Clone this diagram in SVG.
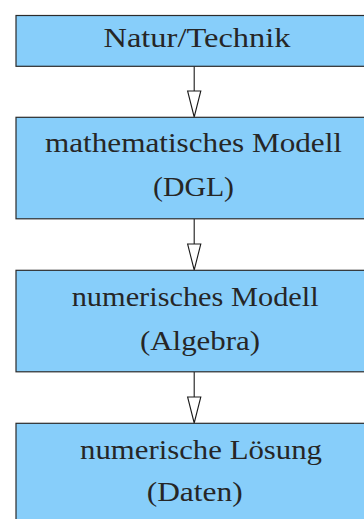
<svg xmlns="http://www.w3.org/2000/svg" width="364" height="519" viewBox="0 0 364 519">
<defs>
<style>
.box{fill:#87cefa;stroke:#2b2b2b;stroke-width:1.2}
.t{font-family:"Liberation Serif","Times New Roman",serif;font-size:27px;fill:#262626}
.c{stroke:#1a1a1a;stroke-width:1.1;fill:none}
.h{fill:#ffffff;stroke:#1a1a1a;stroke-width:1.1;stroke-linejoin:miter}
</style>
</defs>
<rect width="364" height="519" fill="#ffffff"/>
<g id="connectors">
<line class="c" x1="194.2" y1="66" x2="194.2" y2="91"/>
<polygon class="h" points="187.6,91 200.8,91 194.2,117"/>
<line class="c" x1="194.2" y1="219" x2="194.2" y2="244"/>
<polygon class="h" points="187.6,244 200.8,244 194.2,270"/>
<line class="c" x1="194.2" y1="372" x2="194.2" y2="397"/>
<polygon class="h" points="187.6,397 200.8,397 194.2,423"/>
</g>
<g id="n1">
<rect class="box" x="16" y="15.5" width="360" height="50.8"/>
<text class="t" x="103.5" y="47" textLength="187" lengthAdjust="spacingAndGlyphs">Natur/Technik</text>
</g>
<g id="n2">
<rect class="box" x="16" y="117.3" width="360" height="101.5"/>
<text class="t" x="45" y="152" textLength="297" lengthAdjust="spacingAndGlyphs">mathematisches Modell</text>
<text class="t" x="153" y="196" textLength="81" lengthAdjust="spacingAndGlyphs">(DGL)</text>
</g>
<g id="n3">
<rect class="box" x="16" y="270.3" width="360" height="101.5"/>
<text class="t" x="71.7" y="306" textLength="247" lengthAdjust="spacingAndGlyphs">numerisches Modell</text>
<text class="t" x="140" y="350" textLength="120" lengthAdjust="spacingAndGlyphs">(Algebra)</text>
</g>
<g id="n4">
<rect class="box" x="16" y="423.3" width="360" height="110"/>
<text class="t" x="80" y="459" textLength="242" lengthAdjust="spacingAndGlyphs">numerische Lösung</text>
<text class="t" x="146.7" y="500.5" textLength="96" lengthAdjust="spacingAndGlyphs">(Daten)</text>
</g>
</svg>
